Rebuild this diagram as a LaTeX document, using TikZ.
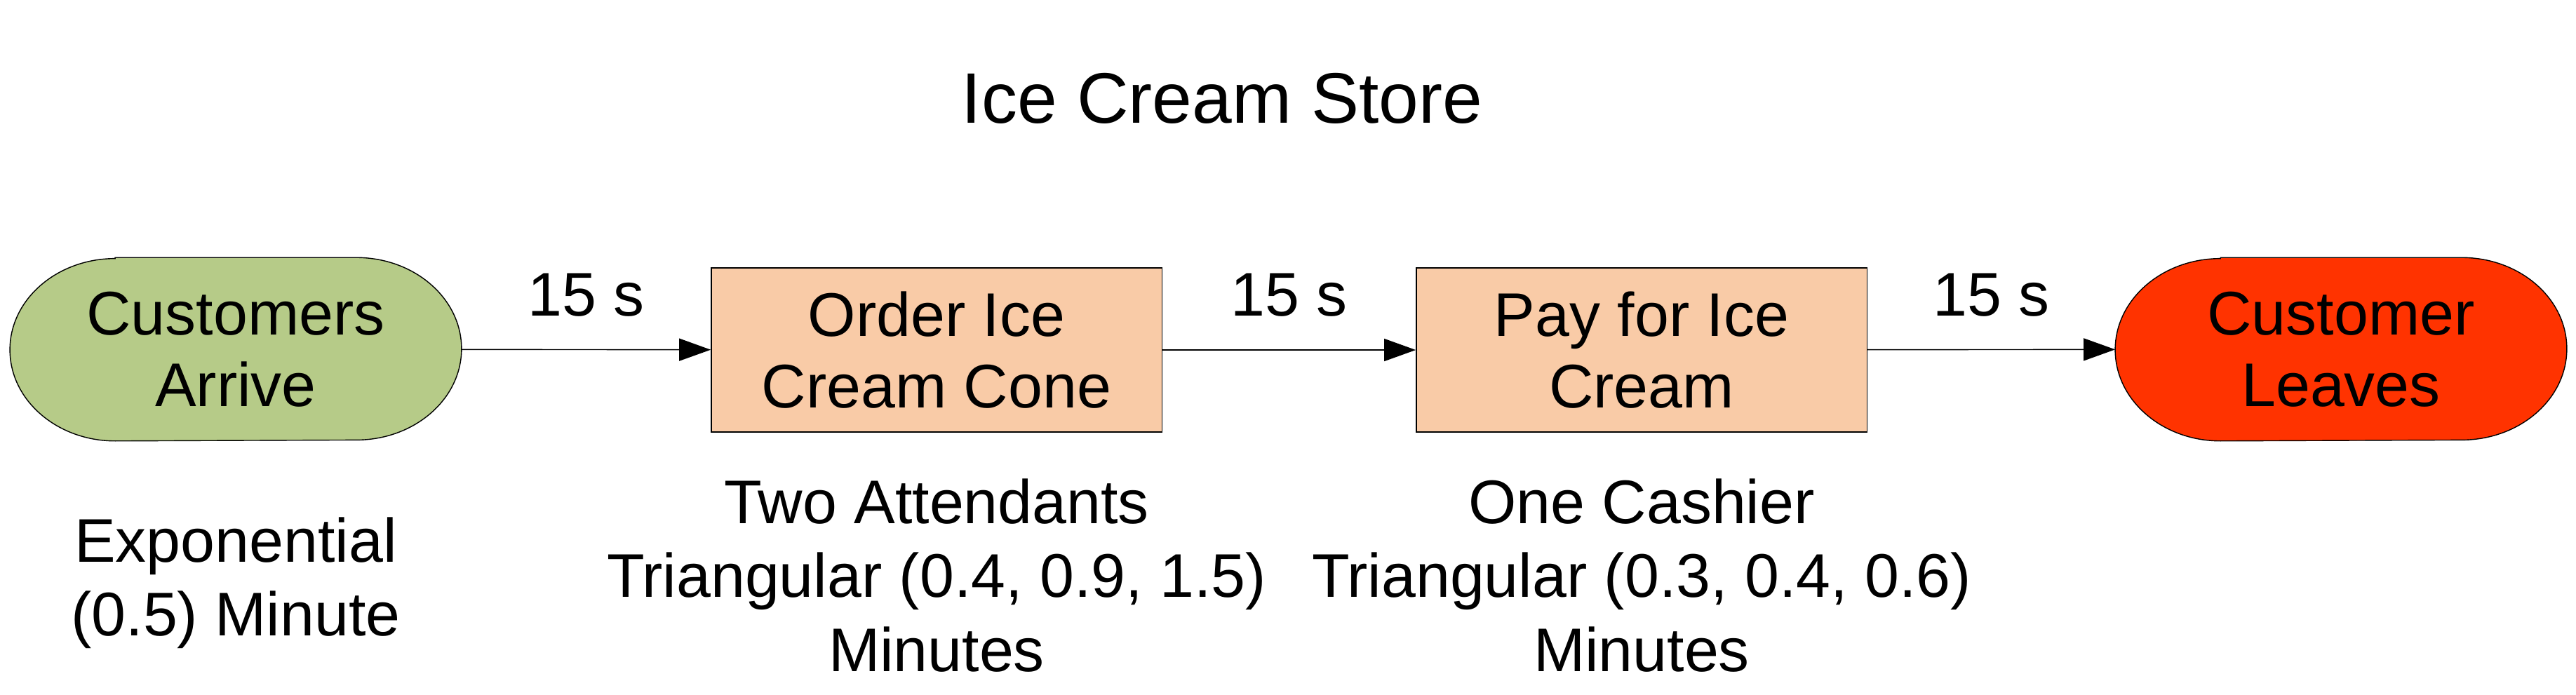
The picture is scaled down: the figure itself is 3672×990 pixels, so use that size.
\documentclass[tikz,border=0pt]{standalone}
\usepackage{fontspec}
\setmainfont{Liberation Sans}
\usetikzlibrary{arrows.meta}
\definecolor{grn}{HTML}{B6CB88}
\definecolor{peach}{HTML}{F9CBA7}
\definecolor{rd}{HTML}{FF3300}
\begin{document}
\begin{tikzpicture}[x=0.01cm,y=-0.01cm,
  lbl/.style={font=\fontsize{25}{29}\selectfont,align=center},
  term/.style={inner sep=0pt,minimum width=6.42cm,minimum height=2.6cm,lbl},
  proc/.style={draw,thin,fill=peach,minimum width=6.42cm,minimum height=2.34cm,lbl},
  arr/.style={-{Triangle[length=0.45cm,width=0.32cm]},thin}]
\useasboundingbox (0,0) rectangle (3672,990);
\node[lbl,font=\fontsize{29}{33}\selectfont] (title) at (1742,140) {Ice Cream Store};
\newcommand\termshape[2]{%
  \draw[thin,fill=#2] ([xshift=1.5cm]#1.north west) -- ([xshift=-1.5cm]#1.north east)
    arc[start angle=90,end angle=-90,x radius=1.5cm,y radius=1.3cm]
    -- ([xshift=1.5cm]#1.south west)
    arc[start angle=270,end angle=90,x radius=1.5cm,y radius=1.3cm] -- cycle;}
\node[term] (a) at (336,498) {\phantom{X}};
\termshape{a}{grn}
\node[lbl] (at) at (a) {Customers\\Arrive};
\node[term] (d) at (3337,498) {\phantom{X}};
\termshape{d}{rd}
\node[lbl] (dt) at (d) {Customer\\Leaves};
\node[proc] (b) at (1335,499) {Order Ice\\Cream Cone};
\node[proc] (c) at (2340,499) {Pay for Ice\\Cream};
\draw[arr] (a) -- (b) node[midway,above=0.35cm,lbl]{15 s};
\draw[arr] (b) -- (c) node[midway,above=0.35cm,lbl]{15 s};
\draw[arr] (c) -- (d) node[midway,above=0.35cm,lbl]{15 s};
\node[lbl,font=\fontsize{25}{30}\selectfont,anchor=north] (ta) at (336,725) {Exponential\\(0.5) Minute};
\node[lbl,font=\fontsize{25}{30}\selectfont,anchor=north] (tb) at (1335,670) {Two Attendants\\Triangular (0.4, 0.9, 1.5)\\Minutes};
\node[lbl,font=\fontsize{25}{30}\selectfont,anchor=north] (tc) at (2340,670) {One Cashier\\Triangular (0.3, 0.4, 0.6)\\Minutes};
\end{tikzpicture}
\end{document}
